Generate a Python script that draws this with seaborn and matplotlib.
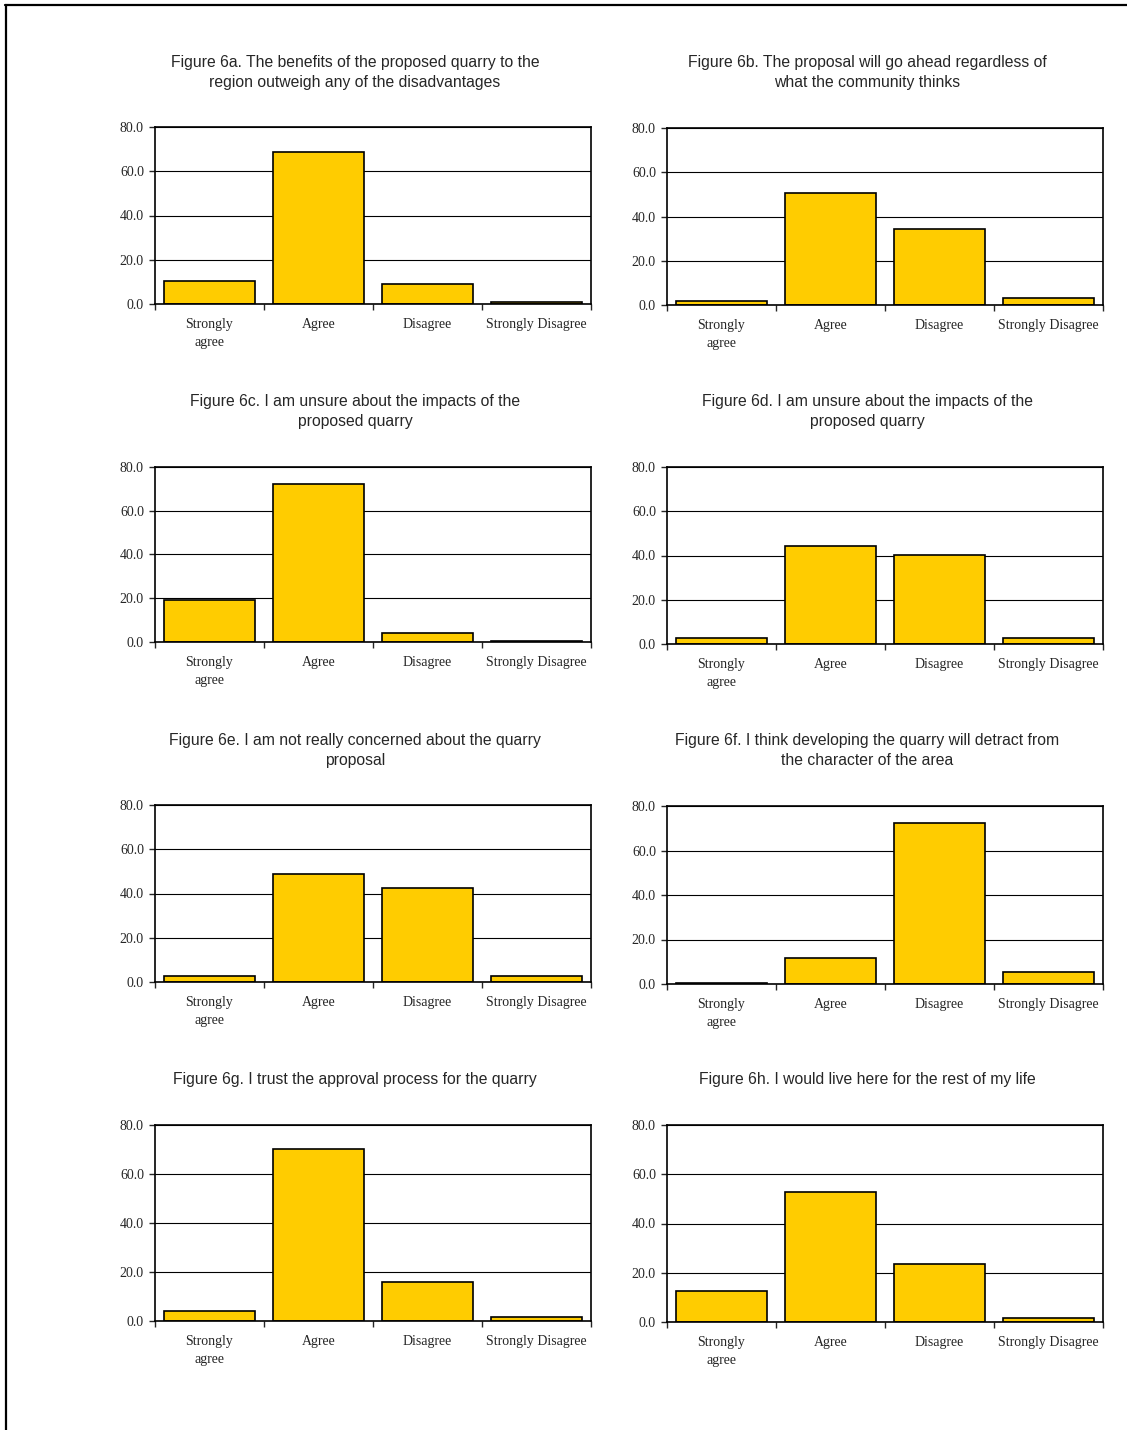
import matplotlib
matplotlib.use('Agg')
import matplotlib.pyplot as plt
import seaborn as sns
import pandas as pd
from matplotlib.lines import Line2D

# Dados (percentagens)
categorias = ['Strongly\nagree', 'Agree', 'Disagree', 'Strongly Disagree']
titulos = [
    'Figure 6a. The benefits of the proposed quarry to the\nregion outweigh any of the disadvantages',
    'Figure 6b. The proposal will go ahead regardless of\nwhat the community thinks',
    'Figure 6c. I am unsure about the impacts of the\nproposed quarry',
    'Figure 6d. I am unsure about the impacts of the\nproposed quarry',
    'Figure 6e. I am not really concerned about the quarry\nproposal',
    'Figure 6f. I think developing the quarry will detract from\nthe character of the area',
    'Figure 6g. I trust the approval process for the quarry',
    'Figure 6h. I would live here for the rest of my life',
]
fig6a = [10.3, 68.9, 8.9, 1.0]
fig6b = [1.6, 50.5, 34.4, 3.0]
fig6c = [19.4, 72.4, 4.0, 0.6]
fig6d = [2.9, 44.2, 40.2, 2.9]
fig6e = [2.9, 48.8, 42.4, 2.9]
fig6f = [0.6, 11.6, 72.4, 5.3]
fig6g = [4.1, 70.1, 16.1, 1.6]
fig6h = [12.6, 52.9, 23.5, 1.8]
series = [fig6a, fig6b, fig6c, fig6d, fig6e, fig6f, fig6g, fig6h]

sns.set_style('white')
plt.rcParams['font.family'] = ['Liberation Serif', 'DejaVu Serif']

W, H = 1127, 1430
fig = plt.figure(figsize=(W / 100, H / 100), dpi=100)

# posições dos eixos em pixels: (esquerda, topo, direita, base)
caixas = [
    (155, 127, 591, 304), (667, 128, 1103, 305),
    (155, 467, 591, 642), (667, 467, 1103, 644),
    (155, 805, 591, 982), (667, 806, 1103, 984),
    (155, 1125, 591, 1321), (667, 1125, 1103, 1322),
]
titulo_y = [61, 61, 400, 400, 739, 739, 1078, 1078]

for i, (vals, tit, cx) in enumerate(zip(series, titulos, caixas)):
    l, t, r, b = cx
    ax = fig.add_axes([l / W, 1 - b / H, (r - l) / W, (b - t) / H])
    df = pd.DataFrame({'cat': categorias, 'val': vals})
    sns.barplot(data=df, x='cat', y='val', ax=ax, color='#FFCC00',
                edgecolor='black', linewidth=1.2, width=0.83, saturation=1)
    ax.set_xlim(-0.5, 3.5)
    ax.set_ylim(0, 80)
    ax.set_yticks([0, 20, 40, 60, 80])
    ax.set_yticklabels(['0.0', '20.0', '40.0', '60.0', '80.0'], fontsize=10)
    ax.set_xticks(range(4))
    ax.set_xticklabels(categorias, fontsize=10, linespacing=1.5)
    ax.set_xticks([-0.5, 0.5, 1.5, 2.5, 3.5], minor=True)
    ax.tick_params(axis='x', which='major', length=0, pad=10)
    ax.tick_params(axis='x', which='minor', length=4, width=1, direction='out', bottom=True)
    ax.tick_params(axis='y', length=4, width=1, direction='out', left=True, pad=4)
    ax.set_xlabel('')
    ax.set_ylabel('')
    ax.yaxis.grid(True, color='black', linewidth=0.8)
    ax.set_axisbelow(True)
    for s in ax.spines.values():
        s.set_color('black')
        s.set_linewidth(1.2)
    cx_tit = ((l + r) / 2 - 18) / W
    fig.text(cx_tit, 1 - (titulo_y[i] - 6) / H, tit, ha='center', va='top',
             fontsize=11.3, family=['Liberation Sans', 'DejaVu Sans'], linespacing=1.45)

# moldura da página
fig.add_artist(Line2D([5 / W, 1], [1 - 5 / H, 1 - 5 / H], color='black', linewidth=1.6,
                      transform=fig.transFigure))
fig.add_artist(Line2D([5.5 / W, 5.5 / W], [0, 1 - 5 / H], color='black', linewidth=1.6,
                      transform=fig.transFigure))

fig.savefig('out.png', dpi=100)
